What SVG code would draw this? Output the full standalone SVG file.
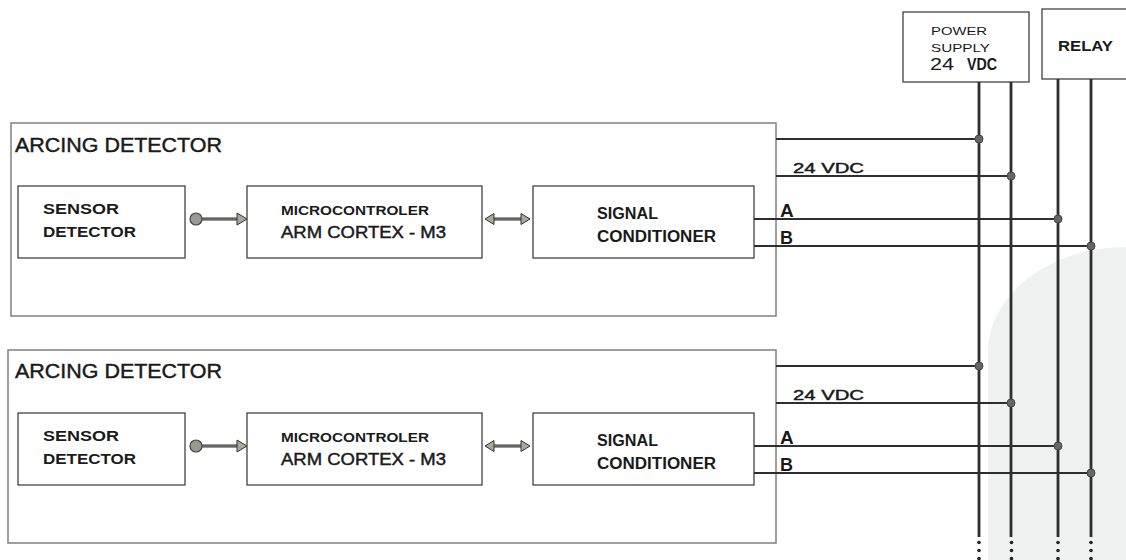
<svg xmlns="http://www.w3.org/2000/svg" width="1126" height="560" viewBox="0 0 1126 560">
<style>
.outer{fill:none;stroke:#808080;stroke-width:1.5}
.box{fill:#fff;stroke:#333;stroke-width:1.2}
.t{font-family:"Liberation Sans",Arial,sans-serif;fill:#1a1a1a}
.m{stroke:#1a1a1a;stroke-width:0.45}
.b{font-weight:bold}
.wire{stroke:#2e2e2e;stroke-width:2.2;fill:none}
.bus{stroke:#2e2e2e;stroke-width:2.8;fill:none}
.jn{fill:#666;stroke:#444;stroke-width:1}
.dot{fill:#222}
.ar{stroke:#333;stroke-width:3;fill:none}
.ari{stroke:#9a9a92;stroke-width:1;fill:none}
.head{fill:#a9a89f;stroke:#333;stroke-width:1}
.src{fill:#9a9a92;stroke:#444;stroke-width:1.2}
</style>
<rect width="1126" height="560" fill="#fff"/>
<path d="M988 560 V352 A138 105 0 0 1 1126 247 V560 Z" fill="#f0f1f1"/>

<g id="power-supply">
<rect x="903" y="12" width="126" height="70" class="box"/>
<text class="t" x="931" y="35" font-size="11" textLength="56" lengthAdjust="spacingAndGlyphs">POWER</text>
<text class="t" x="931" y="52" font-size="11" textLength="59" lengthAdjust="spacingAndGlyphs">SUPPLY</text>
<text class="t" y="70" font-size="16"><tspan x="930" textLength="24" lengthAdjust="spacingAndGlyphs">24</tspan> <tspan x="967" class="b" textLength="30" lengthAdjust="spacingAndGlyphs">VDC</tspan></text>
</g>
<g id="relay">
<rect x="1042" y="9" width="90" height="70" class="box"/>
<text class="t b" x="1058" y="51" font-size="15" textLength="55" lengthAdjust="spacingAndGlyphs">RELAY</text>
</g>

<g id="arcing-detector-1">
<rect x="11" y="123" width="765" height="193" class="outer"/>
<text class="t m" x="15" y="152" font-size="21" textLength="207" lengthAdjust="spacingAndGlyphs">ARCING DETECTOR</text>
</g>
<g id="sensor-1">
<rect x="18" y="186" width="167" height="72" class="box"/>
<text class="t b" x="43" y="214" font-size="15" textLength="76" lengthAdjust="spacingAndGlyphs">SENSOR</text>
<text class="t b" x="43" y="237" font-size="15" textLength="93" lengthAdjust="spacingAndGlyphs">DETECTOR</text>
</g>
<g id="micro-1">
<rect x="247" y="186" width="235" height="72" class="box"/>
<text class="t b" x="281" y="215" font-size="13.5" textLength="148" lengthAdjust="spacingAndGlyphs">MICROCONTROLER</text>
<text class="t m" x="281" y="238" font-size="17" textLength="165" lengthAdjust="spacingAndGlyphs">ARM CORTEX - M3</text>
</g>
<g id="signal-1">
<rect x="533" y="186" width="221" height="72" class="box"/>
<text class="t b" x="597" y="219" font-size="16" textLength="61" lengthAdjust="spacingAndGlyphs">SIGNAL</text>
<text class="t b" x="597" y="242" font-size="16" textLength="119" lengthAdjust="spacingAndGlyphs">CONDITIONER</text>
</g>

<g id="arcing-detector-2">
<rect x="8" y="350" width="768" height="193" class="outer"/>
<text class="t m" x="15" y="378" font-size="21" textLength="207" lengthAdjust="spacingAndGlyphs">ARCING DETECTOR</text>
</g>
<g id="sensor-2">
<rect x="18" y="413" width="167" height="72" class="box"/>
<text class="t b" x="43" y="441" font-size="15" textLength="76" lengthAdjust="spacingAndGlyphs">SENSOR</text>
<text class="t b" x="43" y="464" font-size="15" textLength="93" lengthAdjust="spacingAndGlyphs">DETECTOR</text>
</g>
<g id="micro-2">
<rect x="247" y="413" width="235" height="72" class="box"/>
<text class="t b" x="281" y="442" font-size="13.5" textLength="148" lengthAdjust="spacingAndGlyphs">MICROCONTROLER</text>
<text class="t m" x="281" y="465" font-size="17" textLength="165" lengthAdjust="spacingAndGlyphs">ARM CORTEX - M3</text>
</g>
<g id="signal-2">
<rect x="533" y="413" width="221" height="72" class="box"/>
<text class="t b" x="597" y="446" font-size="16" textLength="61" lengthAdjust="spacingAndGlyphs">SIGNAL</text>
<text class="t b" x="597" y="469" font-size="16" textLength="119" lengthAdjust="spacingAndGlyphs">CONDITIONER</text>
</g>

<g id="connectors">
<line x1="196" y1="219" x2="238" y2="219" class="ar"/>
<line x1="196" y1="219" x2="238" y2="219" class="ari"/>
<circle cx="196" cy="219" r="6" class="src"/>
<polygon points="237,213 247,219 237,225" class="head"/>
<line x1="493" y1="219" x2="522" y2="219" class="ar"/>
<line x1="493" y1="219" x2="522" y2="219" class="ari"/>
<polygon points="494,213.5 485,219 494,224.5" class="head"/>
<polygon points="521,213.5 530,219 521,224.5" class="head"/>
<line x1="196" y1="446" x2="238" y2="446" class="ar"/>
<line x1="196" y1="446" x2="238" y2="446" class="ari"/>
<circle cx="196" cy="446" r="6" class="src"/>
<polygon points="237,440 247,446 237,452" class="head"/>
<line x1="493" y1="446" x2="522" y2="446" class="ar"/>
<line x1="493" y1="446" x2="522" y2="446" class="ari"/>
<polygon points="494,440.5 485,446 494,451.5" class="head"/>
<polygon points="521,440.5 530,446 521,451.5" class="head"/>

<line x1="979" y1="82" x2="979" y2="537" class="bus"/>
<line x1="1011" y1="82" x2="1011" y2="537" class="bus"/>
<line x1="1058" y1="79" x2="1058" y2="537" class="bus"/>
<line x1="1091" y1="79" x2="1091" y2="537" class="bus"/>

<line x1="776" y1="139" x2="979" y2="139" class="wire"/>
<line x1="776" y1="176" x2="1011" y2="176" class="wire"/>
<line x1="754" y1="219" x2="1058" y2="219" class="wire"/>
<line x1="754" y1="246" x2="1091" y2="246" class="wire"/>
<line x1="776" y1="366" x2="979" y2="366" class="wire"/>
<line x1="776" y1="403" x2="1011" y2="403" class="wire"/>
<line x1="754" y1="446" x2="1058" y2="446" class="wire"/>
<line x1="754" y1="473" x2="1091" y2="473" class="wire"/>

<circle cx="979" cy="139" r="4" class="jn"/>
<circle cx="1011" cy="176" r="4" class="jn"/>
<circle cx="1058" cy="219" r="4" class="jn"/>
<circle cx="1091" cy="246" r="4" class="jn"/>
<circle cx="979" cy="366" r="4" class="jn"/>
<circle cx="1011" cy="403" r="4" class="jn"/>
<circle cx="1058" cy="446" r="4" class="jn"/>
<circle cx="1091" cy="473" r="4" class="jn"/>

<g class="dot">
<circle cx="979" cy="542.5" r="1.8"/><circle cx="979" cy="550.5" r="1.8"/><circle cx="979" cy="558.5" r="1.8"/>
<circle cx="1011.5" cy="542.5" r="1.8"/><circle cx="1011.5" cy="550.5" r="1.8"/><circle cx="1011.5" cy="558.5" r="1.8"/>
<circle cx="1058" cy="542.5" r="1.8"/><circle cx="1058" cy="550.5" r="1.8"/><circle cx="1058" cy="558.5" r="1.8"/>
<circle cx="1091" cy="542.5" r="1.8"/><circle cx="1091" cy="550.5" r="1.8"/><circle cx="1091" cy="558.5" r="1.8"/>
</g>
</g>

<g id="wire-labels">
<text class="t m" x="793" y="173" font-size="14" textLength="71" lengthAdjust="spacingAndGlyphs">24 VDC</text>
<text class="t b" x="780" y="217" font-size="19">A</text>
<text class="t b" x="780" y="244" font-size="18">B</text>
<text class="t m" x="793" y="400" font-size="14" textLength="71" lengthAdjust="spacingAndGlyphs">24 VDC</text>
<text class="t b" x="780" y="444" font-size="19">A</text>
<text class="t b" x="780" y="471" font-size="18">B</text>
</g>
</svg>
